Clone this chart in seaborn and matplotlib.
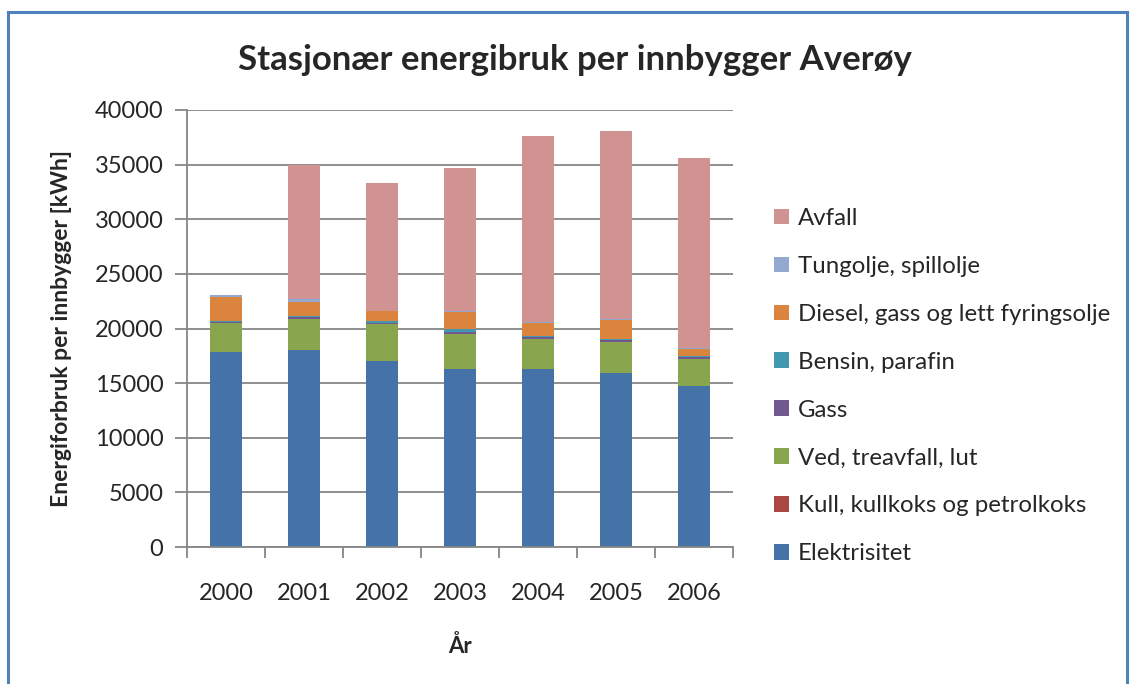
import pandas as pd
import matplotlib
matplotlib.use("Agg")
import matplotlib.pyplot as plt
import matplotlib.patches as mpatches
import seaborn as sns

# --- Data (kWh per innbygger) ---
years = [2000, 2001, 2002, 2003, 2004, 2005, 2006]
elektrisitet = [17850, 18030, 17025, 16265, 16265, 15900, 14765]
kull = [0, 0, 0, 0, 0, 0, 0]
ved = [2620, 2840, 3385, 3260, 2775, 2890, 2445]
gass = [100, 150, 100, 180, 150, 120, 150]
bensin = [120, 120, 150, 220, 120, 125, 125]
diesel = [2220, 1310, 940, 1610, 1165, 1740, 640]
tungolje = [130, 280, 30, 40, 90, 90, 65]
avfall = [0, 12210, 11690, 13080, 17050, 17210, 17420]

series = {
    'Avfall': avfall,
    'Tungolje, spillolje': tungolje,
    'Diesel, gass og lett fyringsolje': diesel,
    'Bensin, parafin': bensin,
    'Gass': gass,
    'Ved, treavfall, lut': ved,
    'Kull, kullkoks og petrolkoks': kull,
    'Elektrisitet': elektrisitet,
}
colors = {
    'Avfall': '#D19392',
    'Tungolje, spillolje': '#93A9CF',
    'Diesel, gass og lett fyringsolje': '#DB843D',
    'Bensin, parafin': '#4198AF',
    'Gass': '#71588F',
    'Ved, treavfall, lut': '#89A54E',
    'Kull, kullkoks og petrolkoks': '#AA4643',
    'Elektrisitet': '#4572A7',
}

rows = []
for name, vals in series.items():
    for yr, v in zip(years, vals):
        rows.append({'Year': yr, 'Kilde': name, 'kWh': v})
df = pd.DataFrame(rows)

sns.set_theme(style="white")
plt.rcParams['font.family'] = ['Lato', 'DejaVu Sans']

fig = plt.figure(figsize=(11.33, 6.84), dpi=100)
ax = fig.add_axes([187 / 1133, 1 - 547 / 684, 546 / 1133, 437 / 684])

hue_order = list(series.keys())
sns.histplot(data=df, x='Year', weights='kWh', hue='Kilde', hue_order=hue_order,
             palette=colors, multiple='stack', discrete=True, shrink=0.4,
             alpha=1, linewidth=0, ax=ax)

ax.set_xlim(1999.5, 2006.5)
ax.set_ylim(0, 40000)
ax.set_yticks(range(0, 40001, 5000))
ax.set_xticks(years)
ax.set_xticks([y - 0.5 for y in years] + [2006.5], minor=True)
ax.yaxis.grid(True, color='#868686', linewidth=1.3)
ax.set_axisbelow(True)
for side in ['top', 'right']:
    ax.spines[side].set_visible(False)
for side in ['left', 'bottom']:
    ax.spines[side].set_color('#868686')
    ax.spines[side].set_linewidth(1.3)
ax.tick_params(axis='y', which='major', left=True, length=9, width=1.3,
               color='#868686', labelsize=17, pad=8)
ax.tick_params(axis='x', which='major', bottom=False, labelsize=17, pad=20)
ax.tick_params(axis='x', which='minor', bottom=True, length=8, width=1.3,
               color='#868686')

ax.set_xlabel('År', fontsize=16, fontweight='bold', labelpad=22)
ax.set_ylabel('Energiforbruk per innbygger [kWh]', fontsize=16.5,
              fontweight='bold', labelpad=16)

fig.text(575 / 1133, 1 - 60 / 684, 'Stasjonær energibruk per innbygger Averøy',
         ha='center', va='center', fontsize=25, fontweight='bold')

sns.move_legend(ax, loc='center left', bbox_to_anchor=(1.035, 0.368), frameon=False,
                title=None, fontsize=17.3, labelspacing=1.12, handlelength=0.62,
                handleheight=0.62, handletextpad=0.4)

# blue chart frame
fig.patches.append(mpatches.Rectangle((8 / 1133, -0.02), 1119 / 1133, 0.02 + 1 - 12 / 684,
                                      transform=fig.transFigure, fill=False,
                                      edgecolor='#4F81BD', linewidth=2.2))

fig.savefig('out.png', dpi=100)
